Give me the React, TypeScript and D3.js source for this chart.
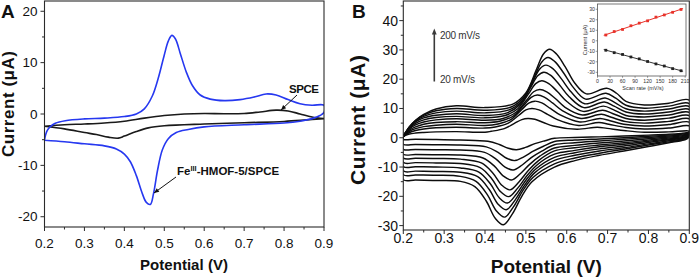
import React from "react";
import * as d3 from "d3";

type Pt = [number, number];

// ---------- shared ticks ----------
const potentialTicks = [0.2, 0.3, 0.4, 0.5, 0.6, 0.7, 0.8, 0.9];
const potentialMinor = [0.25, 0.35, 0.45, 0.55, 0.65, 0.75, 0.85];
const aCurrentTicks = [-20, -10, 0, 10, 20];
const aCurrentMinor = [-15, -5, 5, 15];
const bCurrentTicks = [-30, -20, -10, 0, 10, 20, 30, 40];
const bCurrentMinor = [-25, -15, -5, 5, 15, 25, 35, 45];
const insetRateTicks = [0, 30, 60, 90, 120, 150, 180, 210];
const insetCurrentTicks = [-30, -20, -10, 0, 10, 20, 30];

// ---------- Panel A ----------
const hmofOx: Pt[] = [
  [0.2, -5.1], [0.203, -4.0], [0.207, -3.2], [0.214, -2.5], [0.227, -1.8], [0.252, -1.3],
  [0.3, -0.95], [0.35, -0.8], [0.4, -0.5], [0.43, 0.0], [0.45, 1.0], [0.47, 3.5],
  [0.485, 7.0], [0.5, 11.5], [0.51, 14.2], [0.519, 15.3], [0.528, 14.6], [0.54, 11.8],
  [0.555, 8.2], [0.57, 5.6], [0.59, 3.7], [0.615, 2.9], [0.65, 2.6], [0.69, 2.8],
  [0.725, 3.3], [0.755, 3.9], [0.78, 3.7], [0.81, 2.8], [0.84, 2.0], [0.87, 1.7], [0.9, 1.7],
];
const hmofRed: Pt[] = [
  [0.9, 0.3], [0.89, -0.3], [0.87, -0.9], [0.84, -1.4], [0.8, -1.75], [0.7, -2.1],
  [0.6, -2.5], [0.56, -3.0], [0.53, -3.6], [0.51, -4.8], [0.495, -7.0], [0.483, -11.0],
  [0.473, -15.5], [0.465, -17.6], [0.455, -17.2], [0.445, -15.5], [0.43, -12.0],
  [0.415, -9.3], [0.4, -7.8], [0.38, -6.8], [0.35, -6.2], [0.3, -5.8], [0.25, -5.4], [0.2, -5.1],
];
const spceOx: Pt[] = [
  [0.2, -2.4], [0.25, -2.1], [0.3, -1.95], [0.35, -1.75], [0.4, -1.4], [0.45, -0.8],
  [0.5, -0.3], [0.55, 0.0], [0.6, 0.1], [0.65, 0.05], [0.7, 0.1], [0.74, 0.4],
  [0.78, 0.75], [0.81, 0.6], [0.84, 0.0], [0.87, -0.6], [0.9, -0.9],
];
const spceRed: Pt[] = [
  [0.9, -0.9], [0.85, -1.2], [0.8, -1.45], [0.7, -1.7], [0.6, -1.95], [0.5, -2.3],
  [0.46, -2.7], [0.43, -3.4], [0.4, -4.3], [0.385, -4.7], [0.36, -4.5], [0.33, -4.0],
  [0.3, -3.6], [0.25, -2.9], [0.2, -2.4],
];

// ---------- Panel B: anodic (forward) sweeps ----------
const ox020: Pt[] = [[0.2,0.3],[0.207,0.9],[0.215,1.3],[0.23,1.6],[0.25,1.8],[0.28,2.0],[0.33,2.1],[0.4,1.9],[0.415,2.2],[0.447,3.1],[0.472,4.9],[0.49,6.2],[0.505,6.6],[0.522,6.3],[0.543,5.2],[0.567,4.0],[0.625,2.9],[0.675,3.6],[0.699,3.2],[0.745,2.4],[0.79,1.9],[0.85,2.0],[0.9,2.3]];
const ox040: Pt[] = [[0.2,0.3],[0.207,1.1],[0.215,1.8],[0.23,2.5],[0.25,3.0],[0.28,3.4],[0.33,3.6],[0.4,3.3],[0.425,3.7],[0.457,5.0],[0.482,7.6],[0.5,9.5],[0.515,10.0],[0.532,9.5],[0.553,8.0],[0.577,6.2],[0.629,4.2],[0.679,5.2],[0.703,4.6],[0.745,3.5],[0.79,3.0],[0.85,3.3],[0.9,4.0]];
const ox060: Pt[] = [[0.2,0.4],[0.207,1.3],[0.215,2.2],[0.23,3.1],[0.25,3.8],[0.28,4.3],[0.33,4.6],[0.4,4.2],[0.432,4.7],[0.464,6.3],[0.489,9.5],[0.507,11.8],[0.522,12.5],[0.539,11.9],[0.56,10.0],[0.584,7.8],[0.632,5.4],[0.682,6.6],[0.706,5.8],[0.745,4.5],[0.79,4.0],[0.85,4.5],[0.9,5.3]];
const ox080: Pt[] = [[0.2,0.4],[0.207,1.5],[0.215,2.6],[0.23,3.7],[0.25,4.6],[0.28,5.2],[0.33,5.5],[0.4,5.1],[0.438,5.7],[0.47,7.5],[0.495,11.1],[0.513,13.8],[0.528,14.6],[0.545,13.9],[0.566,11.8],[0.59,9.2],[0.635,6.6],[0.685,8.0],[0.709,7.0],[0.745,5.5],[0.79,5.0],[0.85,5.6],[0.9,6.4]];
const ox100: Pt[] = [[0.2,0.4],[0.207,1.7],[0.215,3.0],[0.23,4.4],[0.25,5.4],[0.28,6.1],[0.33,6.5],[0.4,6.0],[0.444,6.6],[0.476,8.7],[0.501,12.7],[0.519,15.7],[0.534,16.5],[0.551,15.7],[0.572,13.4],[0.596,10.4],[0.638,7.8],[0.688,9.4],[0.712,8.3],[0.745,6.6],[0.79,6.0],[0.85,6.7],[0.9,7.5]];
const ox120: Pt[] = [[0.2,0.4],[0.207,1.8],[0.215,3.3],[0.23,4.9],[0.25,6.1],[0.28,6.9],[0.33,7.3],[0.4,6.8],[0.449,7.6],[0.481,10.0],[0.506,14.9],[0.524,18.5],[0.539,19.5],[0.556,18.5],[0.577,15.8],[0.601,12.3],[0.64,9.0],[0.69,10.8],[0.714,9.6],[0.745,7.6],[0.79,7.1],[0.85,7.8],[0.9,8.6]];
const ox140: Pt[] = [[0.2,0.4],[0.207,1.9],[0.215,3.5],[0.23,5.4],[0.25,6.8],[0.28,7.7],[0.33,8.2],[0.4,7.6],[0.454,8.5],[0.486,11.4],[0.511,17.0],[0.529,21.2],[0.544,22.4],[0.561,21.3],[0.582,18.1],[0.606,14.0],[0.642,10.3],[0.692,12.2],[0.716,10.8],[0.745,8.8],[0.79,8.1],[0.85,8.8],[0.9,9.6]];
const ox160: Pt[] = [[0.2,0.5],[0.207,2.0],[0.215,3.6],[0.23,5.7],[0.25,7.3],[0.28,8.5],[0.33,9.1],[0.4,8.5],[0.459,9.5],[0.491,12.6],[0.516,18.9],[0.534,23.5],[0.549,24.8],[0.566,23.6],[0.587,20.1],[0.611,15.6],[0.644,11.6],[0.694,13.6],[0.718,12.0],[0.745,9.9],[0.79,9.1],[0.85,9.8],[0.9,10.6]];
const ox180: Pt[] = [[0.2,0.5],[0.207,2.1],[0.215,3.7],[0.23,5.9],[0.25,7.7],[0.28,9.2],[0.33,10.0],[0.4,9.4],[0.464,10.5],[0.496,14.0],[0.521,20.9],[0.539,25.9],[0.554,27.4],[0.571,26.0],[0.592,22.2],[0.616,17.2],[0.646,13.2],[0.696,15.2],[0.72,13.5],[0.745,11.1],[0.79,10.1],[0.85,10.8],[0.9,11.6]];
const ox200: Pt[] = [[0.2,0.5],[0.207,2.2],[0.215,3.8],[0.23,6.0],[0.25,8.0],[0.28,9.8],[0.33,10.9],[0.4,10.3],[0.468,11.5],[0.5,15.3],[0.525,23.0],[0.543,28.6],[0.558,30.2],[0.575,28.6],[0.596,24.3],[0.62,18.6],[0.648,15.0],[0.698,16.9],[0.722,15.2],[0.745,12.4],[0.79,11.2],[0.85,11.8],[0.9,12.8]];

// ---------- Panel B: cathodic (reverse) sweeps ----------
const red020: Pt[] = [[0.9,2.0],[0.893,1.7],[0.88,1.5],[0.85,1.2],[0.8,0.9],[0.74,0.6],[0.68,0.3],[0.62,0.1],[0.57,-0.2],[0.547,-1.0],[0.522,-2.0],[0.499,-3.3],[0.477,-4.1],[0.457,-3.6],[0.435,-2.3],[0.407,-1.2],[0.34,-0.8],[0.28,-0.6],[0.23,-0.5],[0.2,-0.5]];
const red040: Pt[] = [[0.9,1.85],[0.893,1.45],[0.88,1.2],[0.85,0.9],[0.8,0.5],[0.74,0.0],[0.68,-0.4],[0.62,-0.8],[0.57,-1.3],[0.543,-2.9],[0.518,-4.6],[0.495,-6.5],[0.473,-7.8],[0.453,-7.0],[0.431,-4.9],[0.403,-3.1],[0.34,-2.5],[0.28,-2.4],[0.23,-2.3],[0.2,-2.2]];
const red060: Pt[] = [[0.9,1.7],[0.893,1.2],[0.88,0.9],[0.85,0.6],[0.8,0.1],[0.74,-0.5],[0.68,-1.1],[0.62,-1.7],[0.57,-2.4],[0.539,-4.55],[0.514,-6.7],[0.491,-9.3],[0.469,-11.0],[0.449,-10.0],[0.427,-7.3],[0.399,-5.0],[0.34,-4.2],[0.28,-4.1],[0.23,-4.0],[0.2,-3.9]];
const red080: Pt[] = [[0.9,1.55],[0.893,1.0],[0.88,0.6],[0.85,0.25],[0.8,-0.35],[0.74,-1.1],[0.68,-1.8],[0.62,-2.6],[0.57,-3.5],[0.535,-6.2],[0.51,-9.0],[0.487,-12.2],[0.465,-14.4],[0.445,-13.1],[0.423,-9.7],[0.395,-6.9],[0.34,-5.9],[0.28,-5.8],[0.23,-5.7],[0.2,-5.6]];
const red100: Pt[] = [[0.9,1.4],[0.893,0.8],[0.88,0.3],[0.85,-0.1],[0.8,-0.8],[0.74,-1.7],[0.68,-2.5],[0.62,-3.4],[0.57,-4.5],[0.531,-7.8],[0.506,-11.2],[0.483,-15.1],[0.461,-17.8],[0.441,-16.2],[0.419,-12.0],[0.391,-8.6],[0.34,-7.3],[0.28,-7.1],[0.23,-7.0],[0.2,-6.9]];
const red120: Pt[] = [[0.9,1.25],[0.893,0.55],[0.88,0.0],[0.85,-0.4],[0.8,-1.2],[0.74,-2.2],[0.68,-3.1],[0.62,-4.3],[0.57,-5.6],[0.528,-9.2],[0.503,-12.9],[0.48,-17.2],[0.458,-20.1],[0.438,-18.4],[0.416,-13.9],[0.388,-10.2],[0.34,-8.8],[0.28,-8.6],[0.23,-8.5],[0.2,-8.4]];
const red140: Pt[] = [[0.9,1.1],[0.893,0.35],[0.88,-0.25],[0.85,-0.7],[0.8,-1.6],[0.74,-2.8],[0.68,-3.8],[0.62,-5.1],[0.57,-6.7],[0.525,-10.6],[0.5,-14.5],[0.477,-19.2],[0.455,-22.3],[0.435,-20.5],[0.413,-15.7],[0.385,-11.7],[0.34,-10.3],[0.28,-10.0],[0.23,-9.9],[0.2,-9.8]];
const red160: Pt[] = [[0.9,0.95],[0.893,0.1],[0.88,-0.5],[0.85,-1.05],[0.8,-2.1],[0.74,-3.4],[0.68,-4.5],[0.62,-6.0],[0.57,-7.7],[0.522,-11.9],[0.497,-16.2],[0.474,-21.2],[0.452,-24.6],[0.432,-22.7],[0.41,-17.6],[0.382,-13.3],[0.34,-11.8],[0.28,-11.5],[0.23,-11.4],[0.2,-11.3]];
const red180: Pt[] = [[0.9,0.75],[0.893,-0.2],[0.88,-0.75],[0.85,-1.4],[0.8,-2.5],[0.74,-3.9],[0.68,-5.3],[0.62,-6.9],[0.57,-8.9],[0.518,-13.5],[0.493,-18.0],[0.47,-23.5],[0.448,-27.1],[0.428,-25.0],[0.406,-19.5],[0.378,-14.9],[0.34,-13.2],[0.28,-12.8],[0.23,-12.7],[0.2,-12.6]];
const red200: Pt[] = [[0.9,0.5],[0.893,-0.5],[0.88,-1.0],[0.85,-1.7],[0.8,-3.0],[0.74,-4.5],[0.68,-6.0],[0.62,-7.8],[0.57,-10.0],[0.515,-15.0],[0.49,-20.0],[0.467,-26.0],[0.445,-29.7],[0.425,-27.5],[0.403,-21.6],[0.375,-16.7],[0.34,-14.9],[0.28,-14.6],[0.23,-14.4],[0.2,-14.3]];

const oxSweeps = [ox020, ox040, ox060, ox080, ox100, ox120, ox140, ox160, ox180, ox200];
const redSweeps = [red020, red040, red060, red080, red100, red120, red140, red160, red180, red200];

// ---------- Inset: peak current vs scan rate ----------
const scanRates = [20, 40, 60, 80, 100, 120, 140, 160, 180, 200];
const anodicPeakCurrent = [5.5, 8.8, 10.8, 14.3, 16.8, 19.0, 22.5, 24.6, 27.1, 29.8];
const cathodicPeakCurrent = [-9.0, -11.3, -13.0, -15.4, -17.2, -19.7, -22.0, -24.0, -26.5, -28.5];

const FONT = "'Liberation Sans', Arial, Helvetica, sans-serif";
const AXIS = "#2b2b2b";

function fit(xs: number[], ys: number[]) {
  const mx = d3.mean(xs)!;
  const my = d3.mean(ys)!;
  const b = d3.sum(xs.map((x, i) => (x - mx) * (ys[i] - my))) / d3.sum(xs.map((x) => (x - mx) ** 2));
  return (x: number) => my + b * (x - mx);
}

function arrowHead(x1: number, y1: number, x2: number, y2: number, len: number, half: number) {
  const dx = x2 - x1, dy = y2 - y1;
  const L = Math.hypot(dx, dy);
  const ux = dx / L, uy = dy / L;
  const bx = x2 - ux * len, by = y2 - uy * len;
  return `${x2},${y2} ${bx - uy * half},${by + ux * half} ${bx + uy * half},${by - ux * half}`;
}

type Frame = { x: d3.ScaleLinear<number, number>; y: d3.ScaleLinear<number, number> };

function Axes({ x, y, xTicks, xMinor, yTicks, yMinor, fs, xLabelY, yLabelX, fmtX, major, minor }: Frame & {
  xTicks: number[]; xMinor: number[]; yTicks: number[]; yMinor: number[]; fs: number;
  xLabelY: number; yLabelX: number; fmtX: (v: number) => string; major: number; minor: number;
}) {
  const [x0, x1] = x.range();
  const [y0, y1] = y.range();
  return (
    <g>
      <rect x={x0} y={y1} width={x1 - x0} height={y0 - y1} fill="none" stroke={AXIS} strokeWidth={1.1} />
      {xTicks.map((t) => (
        <g key={"xt" + t}>
          <line x1={x(t)} x2={x(t)} y1={y0} y2={y0 + major} stroke={AXIS} strokeWidth={1} />
          <text x={x(t)} y={xLabelY} textAnchor="middle" fontSize={fs} fontFamily={FONT} fill="#111">{fmtX(t)}</text>
        </g>
      ))}
      {xMinor.map((t) => (
        <line key={"xm" + t} x1={x(t)} x2={x(t)} y1={y0} y2={y0 + minor} stroke={AXIS} strokeWidth={1} />
      ))}
      {yTicks.map((t) => (
        <g key={"yt" + t}>
          <line x1={x0} x2={x0 - major} y1={y(t)} y2={y(t)} stroke={AXIS} strokeWidth={1} />
          <text x={yLabelX} y={y(t)} dy="0.35em" textAnchor="end" fontSize={fs} fontFamily={FONT} fill="#111">{t}</text>
        </g>
      ))}
      {yMinor.map((t) => (
        <line key={"ym" + t} x1={x0} x2={x0 - minor} y1={y(t)} y2={y(t)} stroke={AXIS} strokeWidth={1} />
      ))}
    </g>
  );
}

export default function App() {
  // Panel A scales
  const ax = d3.scaleLinear().domain([0.2, 0.9]).range([44.5, 324]);
  const ay = d3.scaleLinear().domain([-22, 22]).range([227, 1]);
  // Panel B scales
  const bx = d3.scaleLinear().domain([0.2, 0.9]).range([403.3, 689.3]);
  const by = d3.scaleLinear().domain([-31.5, 46.7]).range([230, 1]);
  // Inset scales
  const ix = d3.scaleLinear().domain([0, 212]).range([597.5, 686]);
  const iy = d3.scaleLinear().domain([-33.5, 35]).range([76, 4]);

  const loopA = d3.line<Pt>().x((d) => ax(d[0])).y((d) => ay(d[1])).curve(d3.curveCatmullRomClosed.alpha(0.5));
  const loopB = d3.line<Pt>().x((d) => bx(d[0])).y((d) => by(d[1])).curve(d3.curveCatmullRomClosed.alpha(0.5));

  const fOx = fit(scanRates, anodicPeakCurrent);
  const fRed = fit(scanRates, cathodicPeakCurrent);
  const fitX = [15, 205];

  const fmt1 = (v: number) => v.toFixed(1);

  const spceArrow = { x1: 297, y1: 95, x2: 281, y2: 110 };
  const feArrow = { x1: 176, y1: 177, x2: 154, y2: 193 };

  return (
    <svg width={699} height={277} viewBox="0 0 699 277" style={{ position: "absolute", left: 0, top: 0, background: "#fff" }}>
      <rect x={0} y={0} width={699} height={277} fill="#fff" />
      <defs>
        <clipPath id="clipA"><rect x={44.5} y={1} width={279.5} height={226} /></clipPath>
        <clipPath id="clipB"><rect x={403.3} y={1} width={286} height={229} /></clipPath>
      </defs>

      {/* ---------------- Panel A ---------------- */}
      <g clipPath="url(#clipA)">
        <path d={loopA([...spceOx, ...spceRed])!} fill="none" stroke="#1a1a1a" strokeWidth={1.6} />
        <path d={loopA([...hmofOx, ...hmofRed])!} fill="none" stroke="#2638f0" strokeWidth={1.6} />
      </g>
      <Axes x={ax} y={ay} xTicks={potentialTicks} xMinor={potentialMinor} yTicks={aCurrentTicks} yMinor={aCurrentMinor}
        fs={13.5} xLabelY={247.5} yLabelX={37.5} fmtX={fmt1} major={4} minor={2.5} />
      <text x={184} y={270} textAnchor="middle" fontSize={15} fontWeight="bold" fontFamily={FONT} fill="#111" textLength={88}>Potential (V)</text>
      <text transform="translate(14,104) rotate(-90)" textAnchor="middle" fontSize={17} fontWeight="bold" fontFamily={FONT} fill="#111" textLength={106}>Current (μA)</text>
      <text x={1} y={18} fontSize={19} fontWeight="bold" fontFamily={FONT} fill="#111">A</text>

      <text x={289} y={92.5} fontSize={11.5} fontWeight="bold" fontFamily={FONT} fill="#111" textLength={30}>SPCE</text>
      <line x1={spceArrow.x1} y1={spceArrow.y1} x2={spceArrow.x2} y2={spceArrow.y2} stroke="#111" strokeWidth={1} />
      <polygon points={arrowHead(spceArrow.x1, spceArrow.y1, spceArrow.x2, spceArrow.y2, 5, 2.2)} fill="#111" />
      <text x={177} y={175} fontSize={11.5} fontWeight="bold" fontFamily={FONT} fill="#111">
        Fe<tspan fontSize={7.5} dy={-4.5}>III</tspan><tspan dy={4.5}>-HMOF-5/SPCE</tspan>
      </text>
      <line x1={feArrow.x1} y1={feArrow.y1} x2={feArrow.x2} y2={feArrow.y2} stroke="#111" strokeWidth={1} />
      <polygon points={arrowHead(feArrow.x1, feArrow.y1, feArrow.x2, feArrow.y2, 5, 2.2)} fill="#111" />

      {/* ---------------- Panel B ---------------- */}
      <g clipPath="url(#clipB)">
        {oxSweeps.map((ox, i) => (
          <path key={scanRates[i]} d={loopB([...ox, ...redSweeps[i]])!} fill="none" stroke="#0d0d0d" strokeWidth={1.45} />
        ))}
      </g>
      <Axes x={bx} y={by} xTicks={potentialTicks} xMinor={potentialMinor} yTicks={bCurrentTicks} yMinor={bCurrentMinor}
        fs={14} xLabelY={243} yLabelX={398} fmtX={fmt1} major={4} minor={2.5} />
      <text x={546.3} y={273} textAnchor="middle" fontSize={19} fontWeight="bold" fontFamily={FONT} fill="#111" textLength={111}>Potential (V)</text>
      <text transform="translate(365,120) rotate(-90)" textAnchor="middle" fontSize={21} fontWeight="bold" fontFamily={FONT} fill="#111" textLength={130}>Current (μA)</text>
      <text x={352} y={18} fontSize={19} fontWeight="bold" fontFamily={FONT} fill="#111">B</text>

      {/* scan-rate arrow */}
      <line x1={434.3} y1={81.5} x2={434.3} y2={33} stroke="#3a3a3a" strokeWidth={1.6} />
      <polygon points={arrowHead(434.3, 81.5, 434.3, 28.5, 6, 2.4)} fill="#3a3a3a" />
      <text x={440} y={38.5} fontSize={10} fontFamily={FONT} fill="#333" textLength={40}>200 mV/s</text>
      <text x={440} y={82.5} fontSize={10} fontFamily={FONT} fill="#333" textLength={35}>20 mV/s</text>

      {/* ---------------- Inset ---------------- */}
      <g>
        <rect x={597.5} y={4} width={88.5} height={72} fill="#fff" stroke="#555" strokeWidth={0.8} />
        <line x1={ix(fitX[0])} y1={iy(fOx(fitX[0]))} x2={ix(fitX[1])} y2={iy(fOx(fitX[1]))} stroke="#e8322a" strokeWidth={1} />
        <line x1={ix(fitX[0])} y1={iy(fRed(fitX[0]))} x2={ix(fitX[1])} y2={iy(fRed(fitX[1]))} stroke="#333" strokeWidth={1} />
        {scanRates.map((r, i) => (
          <g key={"ip" + r}>
            <rect x={ix(r) - 1.4} y={iy(anodicPeakCurrent[i]) - 1.4} width={2.8} height={2.8} fill="#e8322a" />
            <rect x={ix(r) - 1.4} y={iy(cathodicPeakCurrent[i]) - 1.4} width={2.8} height={2.8} fill="#222" />
          </g>
        ))}
        {insetRateTicks.map((t) => (
          <g key={"ixt" + t}>
            <line x1={ix(t)} x2={ix(t)} y1={76} y2={77.8} stroke="#555" strokeWidth={0.6} />
            <text x={ix(t)} y={82.5} textAnchor="middle" fontSize={5.2} fontFamily={FONT} fill="#333">{t}</text>
          </g>
        ))}
        {insetCurrentTicks.map((t) => (
          <g key={"iyt" + t}>
            <line x1={597.5} x2={595.7} y1={iy(t)} y2={iy(t)} stroke="#555" strokeWidth={0.6} />
            <text x={595} y={iy(t)} dy="0.35em" textAnchor="end" fontSize={5.2} fontFamily={FONT} fill="#333">{t}</text>
          </g>
        ))}
        <text x={643} y={89.5} textAnchor="middle" fontSize={5.5} fontFamily={FONT} fill="#333">Scan rate (mV/s)</text>
        <text transform="translate(586.5,40) rotate(-90)" textAnchor="middle" fontSize={5.5} fontFamily={FONT} fill="#333">Current (μA)</text>
      </g>
    </svg>
  );
}
